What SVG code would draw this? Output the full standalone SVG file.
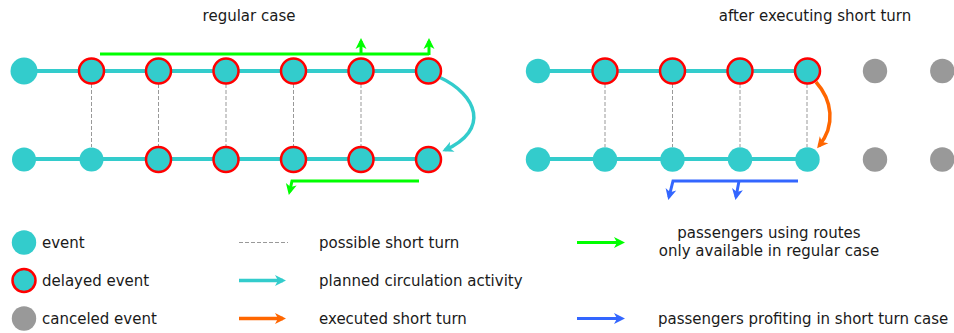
<svg xmlns="http://www.w3.org/2000/svg" width="954" height="333" viewBox="0 0 954 333">
<style>
text{font-family:"DejaVu Sans","Liberation Sans",sans-serif;font-size:15px;fill:#1a1a1a}
.ev{fill:#33cccc}
.dl{fill:#33cccc;stroke:#ff0000;stroke-width:2.5}
.cn{fill:#999999}
.row{stroke:#33cccc;stroke-width:4;fill:none}
.st{stroke:#999999;stroke-width:1;stroke-dasharray:4,2;fill:none}
.tl{stroke:#33cccc;stroke-width:3.5;fill:none;marker-end:url(#mT)}
.or{stroke:#ff6600;stroke-width:3.5;fill:none;marker-end:url(#mO)}
.gr{stroke:#00ff00;stroke-width:3;fill:none}
.grA{stroke:#00ff00;stroke-width:3;fill:none;marker-end:url(#mG)}
.bl{stroke:#3366ff;stroke-width:3;fill:none}
.blA{stroke:#3366ff;stroke-width:3;fill:none;marker-end:url(#mB)}
</style>
<defs>
<marker id="mT" markerUnits="userSpaceOnUse" viewBox="-10 -6 14 12" refX="0" refY="0" markerWidth="14" markerHeight="12" orient="auto"><path d="M3,0 L-8,-5.5 L-5,0 L-8,5.5 z" fill="#33cccc"/></marker>
<marker id="mO" markerUnits="userSpaceOnUse" viewBox="-10 -6 14 12" refX="0" refY="0" markerWidth="14" markerHeight="12" orient="auto"><path d="M3,0 L-8,-5.5 L-5,0 L-8,5.5 z" fill="#ff6600"/></marker>
<marker id="mG" markerUnits="userSpaceOnUse" viewBox="-10 -6 14 12" refX="0" refY="0" markerWidth="14" markerHeight="12" orient="auto"><path d="M3,0 L-8,-5.5 L-5,0 L-8,5.5 z" fill="#00ff00"/></marker>
<marker id="mB" markerUnits="userSpaceOnUse" viewBox="-10 -6 14 12" refX="0" refY="0" markerWidth="14" markerHeight="12" orient="auto"><path d="M3,0 L-8,-5.5 L-5,0 L-8,5.5 z" fill="#3366ff"/></marker>
</defs>

<text x="249" y="21" text-anchor="middle">regular case</text>
<text x="815" y="21" text-anchor="middle">after executing short turn</text>

<g id="connectors">
  <!-- rows -->
  <line class="row" x1="24" y1="71" x2="428" y2="71"/>
  <line class="row" x1="24" y1="159" x2="428" y2="159"/>
  <line class="row" x1="538" y1="71" x2="807" y2="71"/>
  <line class="row" x1="538" y1="159" x2="807" y2="159"/>
  <!-- possible short turns -->
  <line class="st" x1="91.5" y1="84" x2="91.5" y2="147"/>
  <line class="st" x1="158.5" y1="84" x2="158.5" y2="147"/>
  <line class="st" x1="226" y1="84" x2="226" y2="147"/>
  <line class="st" x1="293.5" y1="84" x2="293.5" y2="147"/>
  <line class="st" x1="361" y1="84" x2="361" y2="147"/>
  <line class="st" x1="605" y1="84" x2="605" y2="147"/>
  <line class="st" x1="672.5" y1="84" x2="672.5" y2="147"/>
  <line class="st" x1="740" y1="84" x2="740" y2="147"/>
  <line class="st" x1="807" y1="84" x2="807" y2="147"/>
  <!-- circulation -->
  <path class="tl" d="M439,77 C478,95 490,130 445,150"/>
  <path class="or" d="M816,82 C832,100 836,125 819,146"/>
  <!-- green passengers -->
  <polyline class="gr" points="100,54 429,54"/>
  <line class="grA" x1="429" y1="55" x2="429" y2="41"/>
  <line class="grA" x1="361" y1="55" x2="361" y2="41"/>
  <polyline class="grA" points="419,181 292,181 289.5,192"/>
  <!-- blue passengers -->
  <polyline class="blA" points="798,181 673,181 669,197"/>
  <line class="blA" x1="739" y1="181" x2="736" y2="197"/>
</g>

<g id="n-l-t1"><circle class="ev" cx="24" cy="71" r="13.5"/></g>
<g id="n-l-t2"><circle class="dl" cx="91.5" cy="71" r="12.5"/></g>
<g id="n-l-t3"><circle class="dl" cx="158.5" cy="71" r="12.5"/></g>
<g id="n-l-t4"><circle class="dl" cx="226" cy="71" r="12.5"/></g>
<g id="n-l-t5"><circle class="dl" cx="293.5" cy="71" r="12.5"/></g>
<g id="n-l-t6"><circle class="dl" cx="361" cy="71" r="12.5"/></g>
<g id="n-l-t7"><circle class="dl" cx="428.5" cy="71" r="12.5"/></g>
<g id="n-l-b1"><circle class="ev" cx="24" cy="159.5" r="12"/></g>
<g id="n-l-b2"><circle class="ev" cx="91.5" cy="159.5" r="12"/></g>
<g id="n-l-b3"><circle class="dl" cx="158.5" cy="159.5" r="12.5"/></g>
<g id="n-l-b4"><circle class="dl" cx="226" cy="159.5" r="12.5"/></g>
<g id="n-l-b5"><circle class="dl" cx="293.5" cy="159.5" r="12.5"/></g>
<g id="n-l-b6"><circle class="dl" cx="361" cy="159.5" r="12.5"/></g>
<g id="n-l-b7"><circle class="dl" cx="428.5" cy="159.5" r="12.5"/></g>

<g id="n-r-t1"><circle class="ev" cx="538" cy="71" r="12.2"/></g>
<g id="n-r-t2"><circle class="dl" cx="605" cy="71" r="12.5"/></g>
<g id="n-r-t3"><circle class="dl" cx="672.5" cy="71" r="12.5"/></g>
<g id="n-r-t4"><circle class="dl" cx="740" cy="71" r="12.5"/></g>
<g id="n-r-t5"><circle class="dl" cx="807.5" cy="71" r="12.5"/></g>
<g id="n-r-t6"><circle class="cn" cx="875" cy="71" r="12.2"/></g>
<g id="n-r-t7"><circle class="cn" cx="942.3" cy="71" r="12.2"/></g>
<g id="n-r-b1"><circle class="ev" cx="538" cy="159.5" r="12.2"/></g>
<g id="n-r-b2"><circle class="ev" cx="605" cy="159.5" r="12.2"/></g>
<g id="n-r-b3"><circle class="ev" cx="672.5" cy="159.5" r="12.2"/></g>
<g id="n-r-b4"><circle class="ev" cx="740" cy="159.5" r="12.2"/></g>
<g id="n-r-b5"><circle class="ev" cx="807.5" cy="159.5" r="12.2"/></g>
<g id="n-r-b6"><circle class="cn" cx="875" cy="159.5" r="12.2"/></g>
<g id="n-r-b7"><circle class="cn" cx="942.3" cy="159.5" r="12.2"/></g>

<g id="legend">
  <circle class="ev" cx="24" cy="242.5" r="12.2"/>
  <text x="42" y="248">event</text>
  <circle class="dl" cx="24" cy="280.5" r="11.5"/>
  <text x="42" y="286">delayed event</text>
  <circle class="cn" cx="24" cy="318.5" r="12.2"/>
  <text x="42" y="324">canceled event</text>

  <line class="st" x1="239" y1="242.5" x2="288" y2="242.5"/>
  <text x="319" y="248">possible short turn</text>
  <line class="tl" x1="239" y1="280.5" x2="283" y2="280.5"/>
  <text x="319" y="286">planned circulation activity</text>
  <line class="or" x1="239" y1="318.5" x2="283" y2="318.5"/>
  <text x="319" y="324">executed short turn</text>

  <line class="grA" x1="577" y1="242.5" x2="622" y2="242.5"/>
  <text x="769" y="238" text-anchor="middle">passengers using routes</text>
  <text x="769" y="256" text-anchor="middle">only available in regular case</text>
  <line class="blA" x1="577" y1="318.5" x2="622" y2="318.5"/>
  <text x="658" y="324">passengers profiting in short turn case</text>
</g>
</svg>
